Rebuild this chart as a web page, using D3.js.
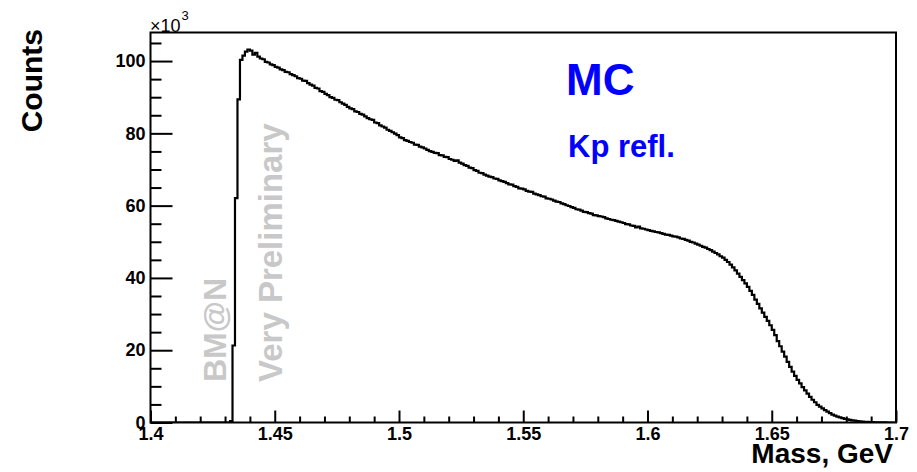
<!DOCTYPE html>
<html>
<head>
<meta charset="utf-8">
<script src="https://cdn.jsdelivr.net/npm/d3@7"></script>
<style>
  html, body { margin: 0; padding: 0; background: #ffffff; }
  svg { display: block; }
</style>
</head>
<body>
<svg id="chart" width="917" height="472"></svg>
<script>
// ---- data ----
const binLow = 1.4;
const binHigh = 1.7;
const nBins = 300;
// counts per bin in units of 10^3
const counts = [
  0, 0, 0, 0, 0, 0, 0, 0, 0, 0,
  0, 0, 0, 0, 0, 0, 0, 0, 0, 0,
  0, 0, 0, 0, 0, 0, 0, 0, 0, 0,
  0, 0, 0.4, 21.3, 62.1, 89.4, 100.3, 101.5, 102.6, 103.2,
  102.9, 101.8, 102.3, 101.2, 100.7, 100.5, 99.8, 99.6, 99.1, 98.9,
  98.4, 98.2, 97.7, 97.5, 97.0, 96.9, 96.4, 96.1, 95.8, 95.3,
  95.1, 94.6, 94.5, 93.9, 93.5, 93.2, 92.6, 92.4, 91.7, 91.5,
  90.9, 90.6, 90.0, 89.8, 89.3, 89.2, 88.6, 88.2, 87.9, 87.3,
  86.9, 86.7, 86.1, 85.9, 85.4, 85.2, 84.7, 84.2, 83.9, 83.7,
  83.0, 82.8, 82.2, 81.9, 81.6, 81.0, 80.7, 80.3, 79.9, 79.5,
  78.9, 78.7, 78.1, 77.9, 77.6, 77.4, 76.9, 76.8, 76.3, 76.1,
  75.8, 75.4, 75.1, 74.9, 74.6, 74.5, 74.0, 73.9, 73.5, 73.4,
  72.9, 72.7, 72.4, 72.5, 71.9, 71.6, 71.2, 71.0, 70.5, 70.4,
  69.8, 69.6, 69.1, 69.0, 68.6, 68.3, 68.0, 67.9, 67.5, 67.4,
  67.0, 66.8, 66.6, 66.2, 65.9, 65.8, 65.4, 65.2, 64.8, 64.7,
  64.5, 64.1, 63.9, 63.8, 63.3, 63.1, 62.9, 62.6, 62.5, 62.0,
  61.9, 61.7, 61.4, 61.1, 61.0, 60.6, 60.4, 60.1, 59.9, 59.6,
  59.4, 59.0, 58.9, 58.6, 58.3, 58.2, 57.9, 57.8, 57.4, 57.3,
  57.1, 57.0, 56.8, 56.5, 56.3, 56.1, 56.0, 55.8, 55.6, 55.4,
  55.2, 54.9, 54.8, 54.5, 54.4, 54.0, 54.2, 53.7, 53.6, 53.4,
  53.2, 53.0, 52.9, 52.7, 52.6, 52.4, 52.2, 52.0, 51.9, 51.7,
  51.5, 51.4, 51.2, 50.9, 50.8, 50.5, 50.3, 50.0, 49.8, 49.5,
  49.2, 48.9, 48.6, 48.4, 48.0, 47.7, 47.3, 46.9, 46.5, 46.0,
  45.6, 45.0, 44.4, 43.7, 42.9, 42.1, 41.2, 40.3, 39.4, 38.5,
  37.5, 36.4, 35.3, 34.0, 32.8, 31.6, 30.4, 29.2, 28.1, 26.9,
  25.6, 24.2, 22.5, 21.1, 19.6, 18.2, 16.8, 15.4, 14.1, 12.9,
  11.8, 10.8, 9.8, 8.9, 8.0, 7.1, 6.3, 5.6, 4.9, 4.4,
  3.9, 3.4, 3.0, 2.6, 2.2, 1.9, 1.6, 1.4, 1.2, 1.0,
  0.9, 0.7, 0.6, 0.5, 0.4, 0.3, 0.25, 0.2, 0.15, 0.1,
  0.08, 0.05, 0.04, 0.03, 0.02, 0.01, 0, 0, 0, 0
];
const xTicks = [1.4, 1.45, 1.5, 1.55, 1.6, 1.65, 1.7];
const xTickLabels = ["1.4", "1.45", "1.5", "1.55", "1.6", "1.65", "1.7"];
const xMinorTicks = [1.41, 1.42, 1.43, 1.44, 1.46, 1.47, 1.48, 1.49, 1.51, 1.52, 1.53, 1.54,
  1.56, 1.57, 1.58, 1.59, 1.61, 1.62, 1.63, 1.64, 1.66, 1.67, 1.68, 1.69];
const yTicks = [0, 20, 40, 60, 80, 100];
const yTickLabels = ["0", "20", "40", "60", "80", "100"];
const yMinorTicks = [5, 10, 15, 25, 30, 35, 45, 50, 55, 65, 70, 75, 85, 90, 95, 105];
const yMax = 107.9;
const xTitle = "Mass, GeV";
const yTitle = "Counts";
const labelMain = "MC";
const labelSub = "Kp refl.";
const wm1 = "BM@N";
const wm2 = "Very Preliminary";

// ---- layout ----
const svg = d3.select("#chart");
const L = 150.5, R = 896, T = 32.5, B = 422.5;
const font = "'Liberation Sans', Arial, Helvetica, sans-serif";

const x = d3.scaleLinear().domain([binLow, binHigh]).range([L, R]);
const y = d3.scaleLinear().domain([0, yMax]).range([B, T]);

// watermark texts (behind histogram)
svg.append("text")
  .attr("transform", `translate(226,${382}) rotate(-90)`)
  .attr("font-family", font).attr("font-weight", "bold").attr("font-size", 32)
  .attr("fill", "#c8c8c8").text(wm1);
svg.append("text")
  .attr("transform", `translate(282,${382}) rotate(-90)`)
  .attr("font-family", font).attr("font-weight", "bold").attr("font-size", 33)
  .attr("fill", "#c8c8c8").text(wm2);

// histogram as steps
const binW = (binHigh - binLow) / nBins;
const pts = [];
counts.forEach((v, i) => {
  pts.push([binLow + i * binW, v]);
  pts.push([binLow + (i + 1) * binW, v]);
});
const line = d3.line().x(d => x(d[0])).y(d => y(d[1]));
svg.append("clipPath").attr("id", "clip")
  .append("rect").attr("x", L).attr("y", T).attr("width", R - L).attr("height", B - T);
svg.append("path")
  .attr("d", line(pts))
  .attr("fill", "none").attr("stroke", "#000").attr("stroke-width", 2.2)
  .attr("stroke-linejoin", "miter")
  .attr("clip-path", "url(#clip)");

// frame
svg.append("rect").attr("x", L).attr("y", T).attr("width", R - L).attr("height", B - T)
  .attr("fill", "none").attr("stroke", "#000").attr("stroke-width", 2);

// axes
function styleAxis(g) {
  g.select(".domain").remove();
  g.selectAll("line").attr("stroke", "#000").attr("stroke-width", 2);
  g.selectAll("text").attr("font-family", font).attr("font-weight", "bold")
    .attr("font-size", 18).attr("fill", "#000");
}
const yAxis = d3.axisLeft(y).tickValues(yTicks).tickSize(-22).tickSizeOuter(0).tickPadding(5)
  .tickFormat((d, i) => yTickLabels[i]);
svg.append("g").attr("transform", `translate(${L},0)`).call(yAxis).call(styleAxis);
const yAxisMinor = d3.axisLeft(y).tickValues(yMinorTicks).tickSize(-11).tickSizeOuter(0).tickFormat("");
svg.append("g").attr("transform", `translate(${L},0)`).call(yAxisMinor).call(styleAxis);

const xAxis = d3.axisBottom(x).tickValues(xTicks).tickSize(-12).tickSizeOuter(0).tickPadding(5)
  .tickFormat((d, i) => xTickLabels[i]);
svg.append("g").attr("transform", `translate(0,${B})`).call(xAxis).call(styleAxis);
const xAxisMinor = d3.axisBottom(x).tickValues(xMinorTicks).tickSize(-6).tickSizeOuter(0).tickFormat("");
svg.append("g").attr("transform", `translate(0,${B})`).call(xAxisMinor).call(styleAxis);

// exponent label
const ex = svg.append("text").attr("x", 150).attr("y", 31.5)
  .attr("font-family", font).attr("font-size", 18).attr("fill", "#000");
ex.append("tspan").text("\u00d710");
ex.append("tspan").attr("font-size", 13).attr("dy", -12).attr("dx", 1).text("3");

// titles
svg.append("text").attr("x", 893).attr("y", 463).attr("text-anchor", "end")
  .attr("font-family", font).attr("font-weight", "bold").attr("font-size", 28)
  .attr("fill", "#000").text(xTitle);
svg.append("text").attr("transform", "translate(42,29) rotate(-90)").attr("text-anchor", "end")
  .attr("font-family", font).attr("font-weight", "bold").attr("font-size", 30)
  .attr("fill", "#000").text(yTitle);

// labels
svg.append("text").attr("x", 566).attr("y", 95)
  .attr("font-family", font).attr("font-weight", "bold").attr("font-size", 44)
  .attr("fill", "#0000ff").text(labelMain);
svg.append("text").attr("x", 568).attr("y", 157)
  .attr("font-family", font).attr("font-weight", "bold").attr("font-size", 31)
  .attr("fill", "#0000ff").text(labelSub);
</script>
</body>
</html>
